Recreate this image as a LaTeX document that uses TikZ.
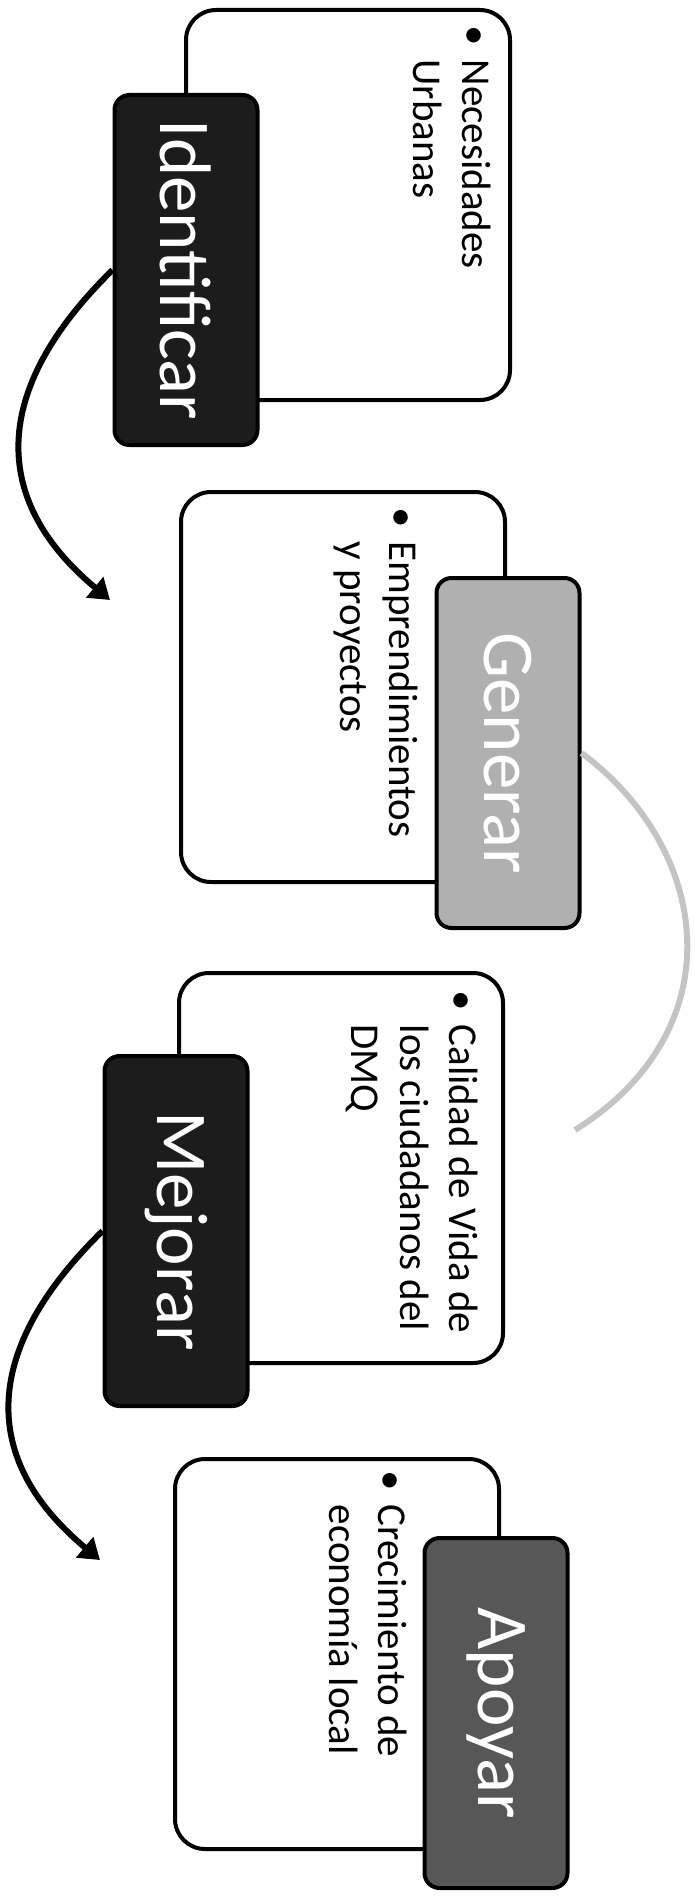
\documentclass[tikz,border=0pt]{standalone}
\usepackage{fontspec}
\setmainfont{Carlito}
\usepackage{tikz}
\usetikzlibrary{arrows.meta}
\definecolor{tagblack}{HTML}{1C1C1C}
\definecolor{tagdark}{HTML}{575757}
\definecolor{taglight}{HTML}{B0B0B0}
\definecolor{arcgray}{HTML}{C4C4C4}
\newcommand{\punto}[1]{\begin{tabular}{@{}l@{\hspace{14pt}}l@{}}\textbullet & #1\end{tabular}}
\tikzset{
  card/.style={draw=black,fill=white,line width=4pt,rounded corners=30pt,minimum width=324pt,minimum height=390pt,inner sep=0pt},
  cardtxt/.style={anchor=north west,rotate=-90,inner sep=0pt,font=\fontsize{41}{49}\selectfont},
  tag/.style={draw=black,line width=4pt,rounded corners=15pt,minimum width=350pt,minimum height=143pt,inner sep=0pt,rotate=-90,text=white,font=\fontsize{73}{84}\selectfont},
  ar/.style={-{Triangle[length=20pt,width=26pt]},line width=6pt,black},
  arfade/.style={line width=6pt,arcgray},
}

\begin{document}
\begin{tikzpicture}[x=1pt,y=-1pt]
  \useasboundingbox (0,0) rectangle (695,1900);
  \foreach \i/\cx/\cy/\gx/\gy/\fc/\lab/\px/\py/\txt in {
    1/348/205/186/270/tagblack/Identificar/497/25/{Necesidades\\ & Urbanas},
    2/343/687/508/753/taglight/Generar/424/507/{Emprendimientos\\ & y proyectos},
    3/341/1168/176/1231/tagblack/Mejorar/484/990/{Calidad de Vida de\\ & los ciudadanos del\\ & DMQ},
    4/337/1654/496/1713/tagdark/Apoyar/413/1470/{Crecimiento de\\ & economía local}} {
    \node[card] (b\i) at (\cx,\cy) {};
    \node[cardtxt] (x\i) at (\px,\py) {\punto{\txt}};
    \node[tag,fill=\fc] (t\i) at (\gx,\gy) {\lab};
  }
  \coordinate (e1) at (110,600);
  \coordinate (e2) at (575,1130);
  \coordinate (e3) at (100,1560);
  \draw[ar] (t1.south) .. controls (-10,390) and (-10,500) .. (e1);
  \draw[arfade] (t2.north) .. controls (712,850) and (735,1030) .. (e2);
  \draw[ar] (t3.south) .. controls (-20,1351) and (-20,1460) .. (e3);
\end{tikzpicture}
\end{document}
